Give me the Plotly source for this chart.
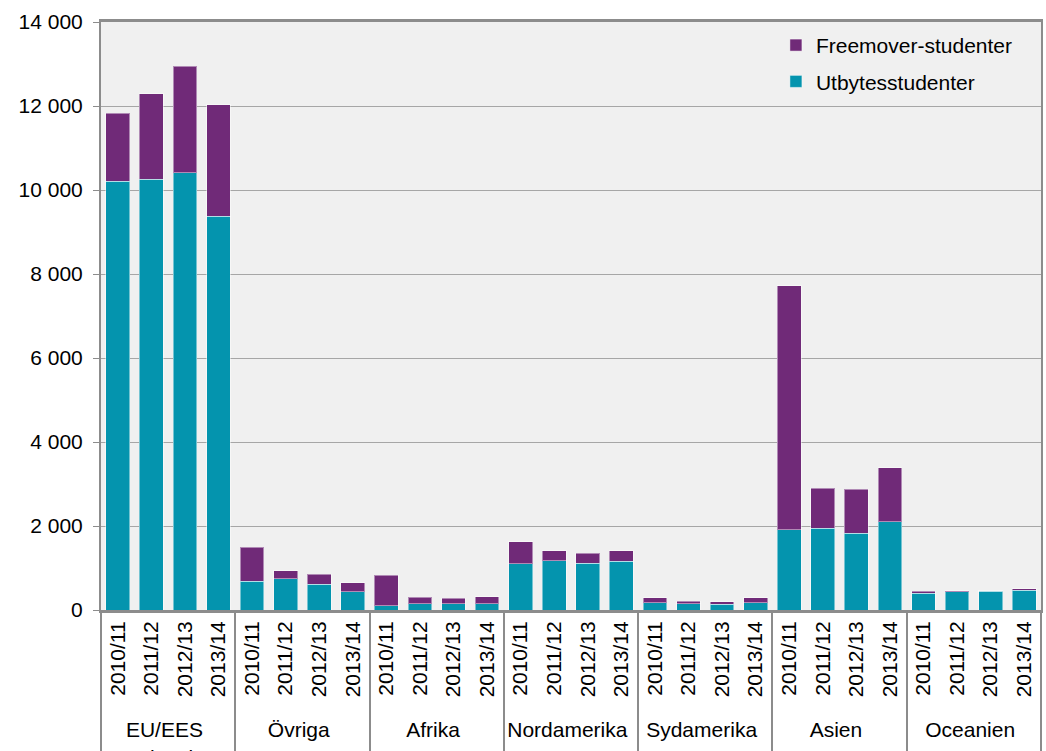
import plotly.graph_objects as go

regions = ["EU/EES<br>Schweiz", "Övriga<br>Europa", "Afrika", "Nordamerika",
           "Sydamerika", "Asien", "Oceanien"]
years = ["2010/11", "2011/12", "2012/13", "2013/14"]

# exchange students and free movers per region (4 academic years each)
utbyte = [
    10214, 10262, 10405, 9381,   # EU/EES Schweiz
    690, 745, 610, 429,          # Övriga Europa
    102, 143, 143, 143,          # Afrika
    1102, 1167, 1119, 1157,      # Nordamerika
    167, 150, 133, 174,          # Sydamerika
    1905, 1952, 1826, 2103,      # Asien
    395, 429, 452, 467,          # Oceanien
]
freemover = [
    1619, 2031, 2547, 2643,
    810, 191, 247, 214,
    731, 157, 133, 174,
    524, 238, 229, 255,
    126, 64, 65, 112,
    5817, 945, 1047, 1285,
    57, 31, 8, 40,
]

x_outer = [r for r in regions for _ in years]
x_inner = [y for _ in regions for y in years]

purple = "#702a78"
teal = "#0494ae"

fig = go.Figure()
fig.add_trace(go.Bar(x=[x_outer, x_inner], y=utbyte, name="Utbytesstudenter",
                     legendgroup="u", legendrank=2,
                     marker=dict(color=teal, line=dict(color="rgba(255,255,255,0.45)", width=1))))
fig.add_trace(go.Bar(x=[x_outer, x_inner], y=freemover, name="Freemover-studenter",
                     legendgroup="f", legendrank=1,
                     marker=dict(color=purple, line=dict(color="rgba(255,255,255,0.45)", width=1))))

fig.update_layout(
    width=1046, height=751,
    barmode="stack", bargap=0.29,
    margin=dict(l=101, r=5, t=22, b=141, pad=0),
    paper_bgcolor="white", plot_bgcolor="#f0f0f0",
    font=dict(family="Liberation Sans, Arial, sans-serif", size=21, color="black"),
    separators=", ",
    legend=dict(x=0.718, y=0.995, xanchor="left", yanchor="top",
                traceorder="grouped", bgcolor="rgba(0,0,0,0)",
                font=dict(size=21), itemwidth=30, tracegroupgap=6),
    showlegend=True,
)
fig.update_yaxes(range=[0, 14000], dtick=2000, tickformat=",d", automargin=False,
                 ticklabelstandoff=6,
                 showgrid=True, gridcolor="#a6a6a6", gridwidth=1,
                 showline=True, linecolor="#8c8c8c", linewidth=2, mirror=True,
                 ticks="outside", ticklen=6, tickcolor="#8c8c8c", zeroline=False)
fig.update_xaxes(type="multicategory", tickangle=-90, automargin=False,
                 showline=True, linecolor="#8c8c8c", linewidth=3, mirror=True,
                 showdividers=True, dividercolor="#8c8c8c", dividerwidth=2,
                 ticks="", showgrid=False)

fig.write_html("out.html", config={"displayModeBar": False},
               post_script="document.body.style.margin='0';")
